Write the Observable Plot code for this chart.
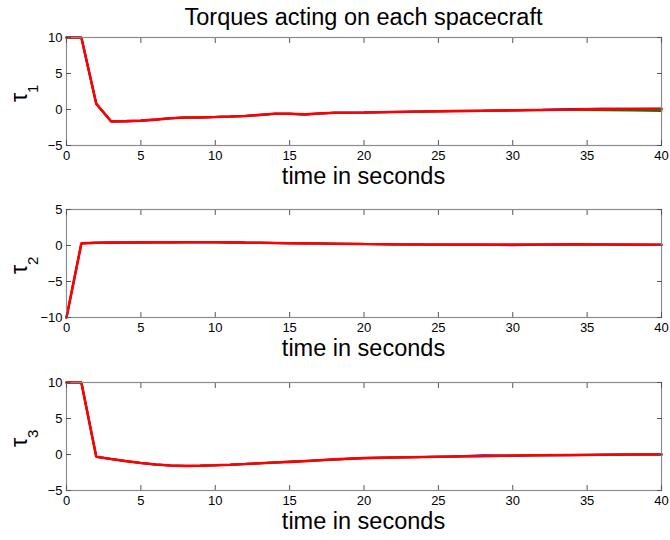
<!DOCTYPE html>
<html>
<head>
<meta charset="utf-8">
<script src="https://cdn.jsdelivr.net/npm/d3@7"></script>
<script src="https://cdn.jsdelivr.net/npm/@observablehq/plot@0.6"></script>
<style>
  html, body { margin: 0; padding: 0; background: #fff; }
  #chart { position: relative; width: 670px; height: 540px; overflow: hidden; font-family: "Liberation Sans", Arial, sans-serif; color: #000; }
  .panel { position: absolute; left: 0; }
  .title, .xlab { position: absolute; left: 66px; width: 595px; text-align: center; font-size: 23.5px; line-height: 0.8; white-space: nowrap; }
  .ylab { position: absolute; transform-origin: 0 0; transform: rotate(-90deg); font-size: 23px; line-height: 1; white-space: nowrap; }
  .ylab sub { font-size: 15px; vertical-align: -11px; }
</style>
</head>
<body>
<div id="chart"></div>
<script>
// ---- data ----
const title = "Torques acting on each spacecraft";
const xLabel = "time in seconds";
const yLabels = ["1", "2", "3"]; // subscripts of τ
const time = [0,1,2,3,4,5,6,7,8,9,10,11,12,13,14,15,16,17,18,20,22,24,26,28,30,32,34,36,38,40];

const tau1Red   = [10,10,0.8,-1.65,-1.62,-1.55,-1.4,-1.22,-1.12,-1.1,-1.05,-0.98,-0.9,-0.75,-0.6,-0.6,-0.68,-0.55,-0.45,-0.42,-0.35,-0.28,-0.22,-0.17,-0.12,-0.06,-0.01,0.05,0.07,0.08];
const tau1Green = [10,10,0.8,-1.65,-1.62,-1.55,-1.4,-1.22,-1.12,-1.1,-1.05,-0.98,-0.9,-0.75,-0.6,-0.6,-0.68,-0.55,-0.45,-0.42,-0.35,-0.28,-0.22,-0.17,-0.12,-0.08,-0.06,-0.1,-0.15,-0.2];
const tau1Blue  = [10,10,0.8,-1.65,-1.62,-1.55,-1.4,-1.22,-1.12,-1.1,-1.05,-0.98,-0.9,-0.75,-0.6,-0.6,-0.68,-0.55,-0.45,-0.42,-0.35,-0.28,-0.22,-0.17,-0.1,-0.02,0.08,0.12,0.12,0.12];

const tau2Red   = [-10,0.3,0.38,0.4,0.42,0.43,0.44,0.44,0.45,0.45,0.45,0.43,0.4,0.38,0.35,0.32,0.3,0.28,0.25,0.2,0.16,0.13,0.12,0.12,0.14,0.13,0.15,0.14,0.12,0.1];
const tau2Green = [-10,0.3,0.38,0.4,0.42,0.43,0.44,0.44,0.45,0.45,0.45,0.43,0.4,0.38,0.35,0.32,0.3,0.28,0.25,0.2,0.16,0.13,0.12,0.12,0.12,0.13,0.14,0.14,0.12,0.1];
const tau2Blue  = [-10,0.3,0.38,0.4,0.42,0.43,0.44,0.44,0.45,0.45,0.45,0.43,0.4,0.38,0.35,0.32,0.3,0.28,0.25,0.2,0.16,0.13,0.12,0.1,0.02,0.12,0.14,0.14,0.12,0.1];

const tau3Red   = [10,10,-0.3,-0.62,-0.92,-1.18,-1.38,-1.52,-1.58,-1.55,-1.5,-1.42,-1.33,-1.22,-1.12,-1.02,-0.92,-0.8,-0.68,-0.5,-0.42,-0.35,-0.28,-0.22,-0.14,-0.1,-0.06,-0.03,-0.01,0];
const tau3Green = [10,10,-0.3,-0.62,-0.92,-1.18,-1.38,-1.52,-1.58,-1.55,-1.5,-1.42,-1.33,-1.22,-1.12,-1.02,-0.92,-0.8,-0.68,-0.5,-0.42,-0.35,-0.28,-0.2,-0.16,-0.12,-0.08,-0.02,0.0,0.02];
const tau3Blue  = [10,10,-0.3,-0.62,-0.92,-1.18,-1.38,-1.52,-1.58,-1.55,-1.5,-1.42,-1.33,-1.22,-1.12,-1.02,-0.92,-0.8,-0.68,-0.5,-0.42,-0.35,-0.28,-0.12,-0.16,-0.06,-0.12,-0.03,-0.01,0];

const xTicks = [0,5,10,15,20,25,30,35,40];
const yTicks1 = [-5,0,5,10];
const yTicks2 = [-10,-5,0,5];
const yTicks3 = [-5,0,5,10];
const yDomains = [[-5,10],[-10,5],[-5,10]];
const seriesNames = ["blue", "green", "red"];
const seriesColors = ["#0000ff", "#008000", "#ff0000"];
const seriesWidths = [2.0, 2.0, 2.6];

// ---- build ----
const panels = [
  {blue: tau1Blue, green: tau1Green, red: tau1Red, ticks: yTicks1, domain: yDomains[0], sub: yLabels[0], top: 27, frameTop: 37},
  {blue: tau2Blue, green: tau2Green, red: tau2Red, ticks: yTicks2, domain: yDomains[1], sub: yLabels[1], top: 199, frameTop: 209},
  {blue: tau3Blue, green: tau3Green, red: tau3Red, ticks: yTicks3, domain: yDomains[2], sub: yLabels[2], top: 372, frameTop: 382}
];

const chart = document.getElementById("chart");
const t = document.createElement("div");
t.className = "title"; t.style.top = "7.5px"; t.textContent = title;
chart.appendChild(t);

const frameH = 108;
panels.forEach((p, i) => {
  const lineMarks = seriesNames.map((s, k) =>
    Plot.line(time.map((tt, j) => ({t: tt, v: p[s][j]})), {
      x: "t", y: "v", stroke: seriesColors[k], strokeWidth: seriesWidths[k], strokeLinejoin: "miter"
    })
  );
  const plot = Plot.plot({
    width: 670,
    height: 10 + frameH + 24,
    marginLeft: 66, marginRight: 9, marginTop: 10, marginBottom: 24,
    style: {fontFamily: "'Liberation Sans', Arial, sans-serif", fontSize: "13px", color: "#000", background: "transparent", overflow: "visible"},
    x: {domain: [0, 40], ticks: xTicks},
    y: {domain: p.domain, ticks: p.ticks},
    marks: [
      ...lineMarks,
      Plot.frame({stroke: "#8c8c8c", strokeWidth: 1.2}),
      // inward tick marks on all four sides (no text)
      Plot.axisX(xTicks, {anchor: "bottom", tickSize: -5, fill: "none", label: null, stroke: "#555"}),
      Plot.axisX(xTicks, {anchor: "top", tickSize: -5, fill: "none", label: null, stroke: "#555"}),
      Plot.axisY(p.ticks, {anchor: "left", tickSize: -5, fill: "none", label: null, stroke: "#555"}),
      Plot.axisY(p.ticks, {anchor: "right", tickSize: -5, fill: "none", label: null, stroke: "#555"}),
      // tick labels
      Plot.axisX(xTicks, {anchor: "bottom", tickSize: 0, tickPadding: 5, label: null, fill: "#000", fontSize: 13}),
      Plot.axisY(p.ticks, {anchor: "left", tickSize: 0, tickPadding: 4, label: null, fill: "#000", fontSize: 13})
    ]
  });
  const wrap = document.createElement("div");
  wrap.className = "panel"; wrap.style.top = p.top + "px";
  wrap.appendChild(plot);
  chart.appendChild(wrap);

  const xl = document.createElement("div");
  xl.className = "xlab";
  xl.style.top = (p.frameTop + frameH + 21.5) + "px";
  xl.textContent = xLabel;
  chart.appendChild(xl);

  const yl = document.createElement("div");
  yl.className = "ylab";
  yl.style.left = "7.5px";
  yl.style.top = (p.frameTop + frameH / 2 + 10.5) + "px";
  yl.innerHTML = "τ<sub>" + p.sub + "</sub>";
  chart.appendChild(yl);
});
</script>
</body>
</html>
